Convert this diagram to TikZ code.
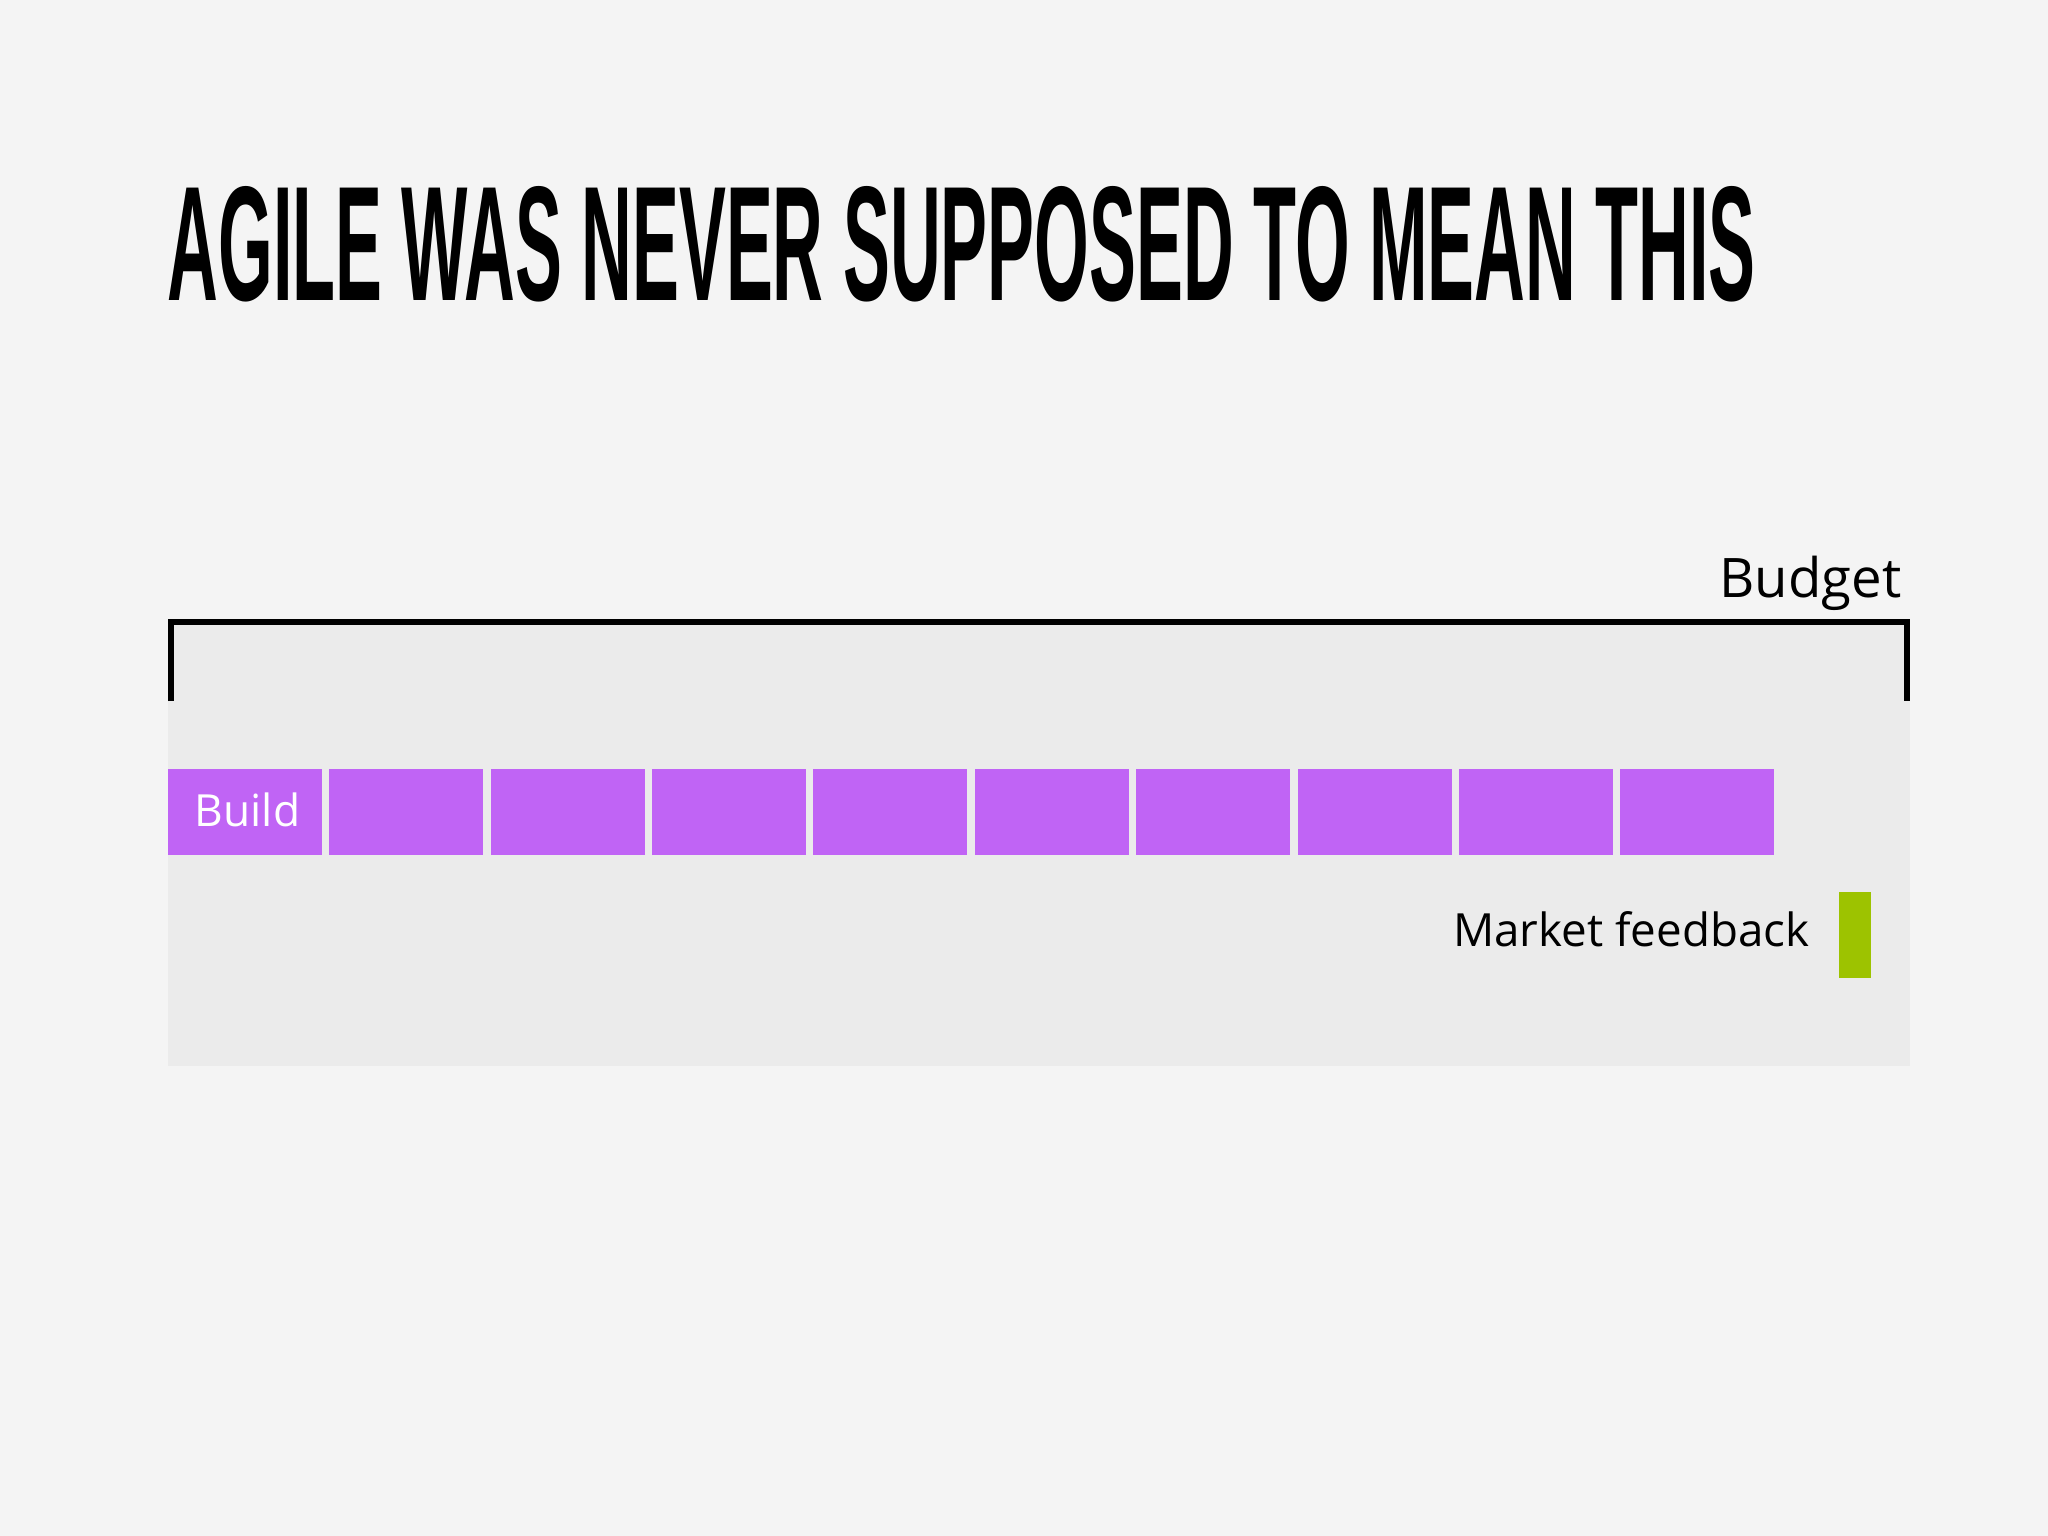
\documentclass[tikz,border=0pt]{standalone}
\usepackage{fontspec}
\setmainfont{Open Sans}
\newfontfamily\titlefont{Liberation Sans}
\usepackage{xcolor}
\usetikzlibrary{positioning, calc}
\definecolor{paper}{HTML}{F4F4F4}
\definecolor{panel}{HTML}{EBEBEB}
\definecolor{buildpurple}{HTML}{C064F5}
\definecolor{feedgreen}{HTML}{9DC300}

\begin{document}
\begin{tikzpicture}[
  x=0.01cm, y=-0.01cm,
  sprint/.style={fill=buildpurple, minimum width=1.54cm,
                 minimum height=0.86cm, inner sep=0pt,
                 anchor=north west},
  feedback/.style={fill=feedgreen, minimum width=0.32cm,
                   minimum height=0.86cm, inner sep=0pt,
                   anchor=north west},
  lbl/.style={inner sep=0pt, font=\fontsize{15.5}{18}\selectfont},
  bracket/.style={line width=1.45pt, line join=miter}
]
\fill[paper] (0,0) rectangle (2048,1536);
\useasboundingbox (0,0) rectangle (2048,1536);
\fill[panel] (168,620) rectangle (1910,1066);

\node[anchor=south west, inner sep=0pt] (title) at (167,303)
    {\resizebox{15.87cm}{1.14cm}{\titlefont\bfseries
     AGILE WAS NEVER SUPPOSED TO MEAN THIS}};

% budget bracket
\coordinate (bkl) at (171,701);
\coordinate (bktl) at (171,622);
\coordinate (bktr) at (1907,622);
\coordinate (bkr) at (1907,701);
\draw[bracket] (bkl) -- (bktl) -- (bktr) -- (bkr);
\node[lbl, anchor=base east] (budget) at (1902,597) {Budget};

% build increments
\foreach \i in {0,...,9}
  \node[sprint] (s\i) at ({167+161.4*\i},768) {};
\node[lbl, white, font=\fontsize{12.6}{15}\selectfont, anchor=base west]
    (build) at (194,826) {Build};

\node[feedback] (fb) at (1838,891) {};
\node[lbl, font=\fontsize{13}{16}\selectfont, anchor=base east]
    (market) at (1810,946) {Market feedback};
\end{tikzpicture}
\end{document}
